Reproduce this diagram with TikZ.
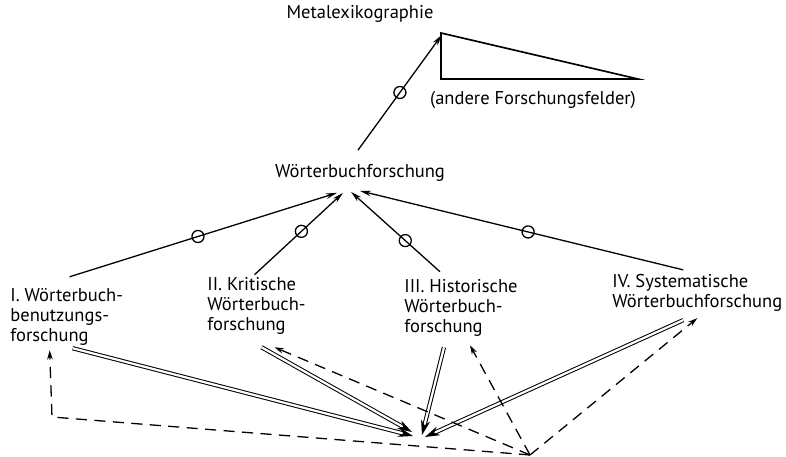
\documentclass[tikz,border=0pt]{standalone}
\usepackage{fontspec}
\setmainfont{PT Sans}
\usetikzlibrary{arrows.meta}

\begin{document}
\begin{tikzpicture}[x=0.54pt,y=-0.54pt,
  txt/.style={font=\fontsize{10}{11}\selectfont, inner sep=0pt},
  lbl/.style={txt, align=left, anchor=west},
  pfeil/.style={-{Stealth[length=6pt,width=3pt]}, line width=0.7pt},
  ring/.style={draw, circle, minimum size=6.5pt, inner sep=0pt, line width=0.7pt},
  dbl/.style={double, double distance=1.2pt, line width=0.55pt, -{Stealth[length=8pt,width=5pt]}},
  dsh/.style={dash pattern=on 6pt off 4pt, line width=0.7pt, -{Stealth[length=5pt,width=3pt]}}]

\useasboundingbox (0,0) rectangle (786,457);

% Ebenen
\node[txt] (meta) at (360,14) {Metalexikographie};
\node[txt] (andere) at (533,100) {(andere Forschungsfelder)};
\node[txt] (wbf) at (360,173) {Wörterbuchforschung};

% Teilbereiche
\node[lbl] (kI) at (10,317) {I. Wörterbuch-\\benutzungs-\\forschung};
\node[lbl] (kII) at (207,306) {II. Kritische\\Wörterbuch-\\forschung};
\node[lbl] (kIII) at (404,308) {III. Historische\\Wörterbuch-\\forschung};
\node[lbl] (kIV) at (612,293) {IV. Systematische\\Wörterbuchforschung};

\coordinate (p) at (418,436);
\coordinate (q) at (530,455);
\coordinate (eck) at (52,417);

\draw[line width=0.9pt] (441,33) -- (441,79) -- (638,79) -- cycle;

\draw[pfeil] ([shift={(-2,-14)}]wbf.north) -- node[ring, pos=0.5] {} ([shift={(8,12)}]meta.south east);

\draw[pfeil] ([shift={(3,-11)}]kI.north) -- node[ring, pos=0.48] {} ([shift={(-23,11)}]wbf.south);
\draw[pfeil] ([shift={(-2,-2)}]kII.north) -- node[ring, pos=0.53] {} ([shift={(-17,11)}]wbf.south);
\draw[pfeil] ([shift={(-21,-7)}]kIII.north) -- node[ring, pos=0.39] {} ([shift={(-9,10)}]wbf.south);
\draw[pfeil] ([shift={(-14,-4)}]kIV.north) -- node[ring, pos=0.48] {} ([shift={(0,9)}]wbf.south);

\draw[dbl] ([shift={(6,2)}]kI.south) -- ([shift={(-5,0)}]p);
\draw[dbl] ([shift={(5,12)}]kII.south) -- ([shift={(-6,-4)}]p);
\draw[dbl] ([shift={(-17,10)}]kIII.south) -- ([shift={(4,-1)}]p);
\draw[dbl] ([shift={(-14,8)}]kIV.south) -- ([shift={(7,1)}]p);

\draw[dsh] (q) -- (eck) -- ([shift={(-17,4)}]kI.south);
\draw[dsh] (q) -- ([shift={(18,12)}]kII.south);
\draw[dsh] (q) -- ([shift={(9,8)}]kIII.south);
\draw[dsh] (q) -- ([shift={(0,6)}]kIV.south);

\end{tikzpicture}
\end{document}
